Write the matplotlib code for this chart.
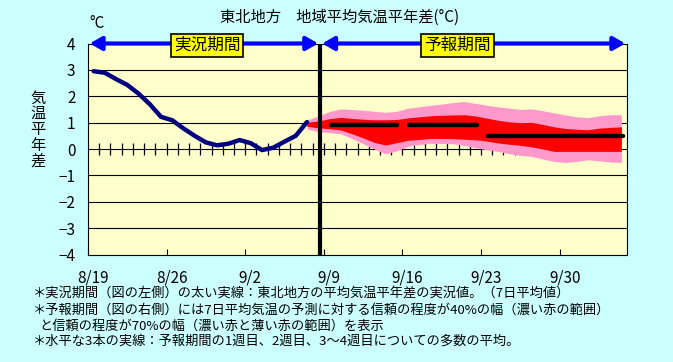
import numpy as np
import matplotlib
matplotlib.use('Agg')
from matplotlib import pyplot as plt
from matplotlib.transforms import ScaledTranslation

plt.rcParams['font.family'] = ['Noto Sans CJK JP', 'DejaVu Sans']

# day index: 0 = 8/19
tick_days = [0, 7, 14, 21, 28, 35, 42]
tick_labels = ['8/19', '8/26', '9/2', '9/9', '9/16', '9/23', '9/30']

# observed 7-day mean anomaly (centre of each day)
obs_days = np.arange(20) + 0.5
obs_vals = [2.95, 2.89, 2.65, 2.43, 2.10, 1.70, 1.22, 1.09, 0.78, 0.50,
            0.25, 0.14, 0.20, 0.34, 0.22, -0.04, 0.05, 0.28, 0.50, 1.02]

# forecast ranges
fc_days = np.arange(29) + 19.5
pink_top = [1.10, 1.25, 1.42, 1.52, 1.50, 1.47, 1.43, 1.39, 1.43, 1.55,
            1.60, 1.66, 1.70, 1.76, 1.80, 1.73, 1.66, 1.60, 1.55, 1.50,
            1.52, 1.45, 1.37, 1.29, 1.22, 1.19, 1.26, 1.30, 1.30]
red_top = [1.02, 1.06, 1.15, 1.20, 1.16, 1.13, 1.11, 1.11, 1.12, 1.18,
           1.22, 1.26, 1.28, 1.29, 1.30, 1.25, 1.17, 1.09, 1.03, 1.00,
           1.01, 0.93, 0.84, 0.78, 0.75, 0.73, 0.79, 0.82, 0.84]
red_bot = [0.86, 0.80, 0.77, 0.72, 0.58, 0.42, 0.25, 0.15, 0.24, 0.33,
           0.36, 0.40, 0.40, 0.39, 0.37, 0.35, 0.30, 0.23, 0.18, 0.14,
           0.08, 0.00, -0.09, -0.09, -0.09, -0.09, -0.09, -0.09, -0.09]
pink_bot = [0.75, 0.66, 0.62, 0.58, 0.40, 0.20, 0.00, -0.18, -0.07, 0.10,
            0.17, 0.22, 0.21, 0.20, 0.14, 0.05, -0.03, -0.09, -0.18, -0.24,
            -0.28, -0.38, -0.47, -0.51, -0.47, -0.41, -0.45, -0.49, -0.51]

# weekly means (week1, week2, weeks3-4)
week_start = [21.6, 28.6, 35.6]
week_end = [27.5, 34.6, 47.6]
week_vals = [0.9, 0.9, 0.5]

split_day = 20.65
end_day = 48

fig = plt.figure(figsize=(6.73, 3.62), dpi=100, facecolor='#CCFFFF')
ax = fig.add_axes([88 / 673, 1 - 254.5 / 362, 539 / 673, 211 / 362])
ax.set_facecolor('#FFFFCC')
ax.set_xlim(0, end_day)
ax.set_ylim(-4, 4)

for y in range(-3, 4):
    ax.axhline(y, color='black', lw=0.8, zorder=1)
# daily ticks along zero line
ax.plot(np.arange(1, end_day), np.zeros(end_day - 1), '|', color='black',
        ms=8, mew=0.9, zorder=1)

ax.fill_between(fc_days, pink_bot, pink_top, color='#FF99CC', lw=0, zorder=2)
ax.fill_between(fc_days, red_bot, red_top, color='#FF0000', lw=0, zorder=3)

ax.plot(obs_days, obs_vals, color='#000080', lw=3.2, solid_joinstyle='round',
        solid_capstyle='round', zorder=4)

for s, e, v in zip(week_start, week_end, week_vals):
    ax.plot([s, e], [v, v], color='black', lw=3.2, solid_capstyle='round',
            zorder=5)

ax.axvline(split_day, color='black', lw=3, zorder=6)

for sp in ax.spines.values():
    sp.set_color('black')
    sp.set_linewidth(0.8)

ax.set_yticks(range(-4, 5))
ax.set_yticklabels([str(v).replace('-', '\u2212') for v in range(-4, 5)])
ax.tick_params(axis='y', length=0, pad=9, labelsize=11)
ax.set_xticks(tick_days)
ax.set_xticklabels(tick_labels)
ax.tick_params(axis='x', direction='in', length=4.5, width=0.8, pad=11,
               labelsize=11)
offset = ScaledTranslation(5 / 100, 0, fig.dpi_scale_trans)
for lab in ax.get_xticklabels():
    lab.set_transform(lab.get_transform() + offset)

# period arrows
arrow_style = '<|-|>,head_length=0.35,head_width=0.2'
ax.annotate('', xy=(0.15, 4), xytext=(split_day - 0.15, 4),
            arrowprops=dict(arrowstyle=arrow_style, color='#0000FF', lw=3,
                            mutation_scale=20, shrinkA=0, shrinkB=0),
            annotation_clip=False, zorder=7)
ax.annotate('', xy=(split_day + 0.2, 4), xytext=(end_day - 0.15, 4),
            arrowprops=dict(arrowstyle=arrow_style, color='#0000FF', lw=3,
                            mutation_scale=20, shrinkA=0, shrinkB=0),
            annotation_clip=False, zorder=7)
box = dict(facecolor='#FFFF00', edgecolor='black', lw=1.2, pad=2)
ax.text(10.6, 3.93, '実況期間', fontsize=12, ha='center', va='center',
        bbox=box, zorder=8, clip_on=False)
ax.text(32.9, 3.93, '予報期間', fontsize=12, ha='center', va='center',
        bbox=box, zorder=8, clip_on=False)

fig.text(220 / 673, 1 - 17.5 / 362, '東北地方\u3000地域平均気温平年差(°C)',
         fontsize=11, ha='left', va='center', color='black')
fig.text(97.5 / 673, 1 - 23.5 / 362, '°C', fontsize=11, ha='center',
         va='center')
fig.text(37.7 / 673, 1 - 129.3 / 362, '\n'.join('気温平年差'), fontsize=11,
         ha='center', va='center', linespacing=0.9)

notes = [
    '＊実況期間（図の左側）の太い実線：東北地方の平均気温平年差の実況値。（7日平均値）',
    '＊予報期間（図の右側）には7日平均気温の予測に対する信頼の程度が40%の幅（濃い赤の範囲）',
    'と信頼の程度が70%の幅（濃い赤と薄い赤の範囲）を表示',
    '＊水平な3本の実線：予報期間の1週目、2週目、3～4週目についての多数の平均。',
]
note_x = [33, 33, 39, 33]
note_y = [293.3, 310, 326, 340.7]
for t, nx, ny in zip(notes, note_x, note_y):
    fig.text(nx / 673, 1 - ny / 362, t, fontsize=9.5, ha='left', va='center')

fig.savefig('out.png', dpi=100, facecolor=fig.get_facecolor())
